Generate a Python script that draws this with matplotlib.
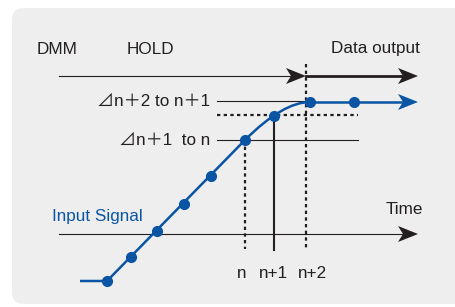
import matplotlib
matplotlib.use("Agg")
import matplotlib.pyplot as plt
from matplotlib.patches import FancyBboxPatch, PathPatch, Polygon
from matplotlib.path import Path

# ---- data (diagram units: x = time position, y = vertical position, y grows downward) ----
sample_x = [107, 131, 157, 184, 211, 245, 274, 310, 354]
sample_y = [281, 257, 231, 204, 176, 140, 116, 102, 102]
signal_start = (80, 281)
signal_end_x = 418
curve_ctrl = (283, 102)

time_axis_y = 234
axis_x_start, axis_x_end = 59, 418
output_y = 76
hold_end_x = 306

level_labels = ["⊿n＋2 to n＋1", "⊿n＋1  to n"]
level_y = [101, 140]
level_x_end = [306, 358]
dotted_level_y = 115
dotted_level_x = (217, 358)

tick_labels = ["n", "n+1", "n+2"]
tick_x = [245, 274, 306]
tick_label_x = [242, 273, 312]

BLUE = "#0a54a4"
INK = "#231f20"
FONT = ["Liberation Sans", "Noto Sans CJK JP", "DejaVu Sans"]
FS = 12.3

fig = plt.figure(figsize=(4.55, 3.07), dpi=100)
fig.patch.set_facecolor("white")
ax = fig.add_axes([0, 0, 1, 1])
ax.set_xlim(0, 455)
ax.set_ylim(307, 0)
ax.axis("off")

# background panel
ax.add_patch(FancyBboxPatch((12, 8), 470, 296, boxstyle="round,pad=0,rounding_size=12",
                            fc="#eeeeee", ec="none", zorder=0))

def head(x_tip, y, color, L=20, H=8, notch=5):
    ax.add_patch(Polygon([(x_tip, y), (x_tip - L, y - H), (x_tip - L + notch, y),
                          (x_tip - L, y + H)], closed=True, fc=color, ec="none", zorder=5))

# top DMM / HOLD arrow
ax.plot([axis_x_start, hold_end_x - 12], [output_y, output_y], color=INK, lw=0.8, zorder=2)
head(hold_end_x, output_y, INK)
ax.plot([hold_end_x, signal_end_x - 12], [output_y, output_y], color=INK, lw=2.0, zorder=2)
head(signal_end_x, output_y, INK)

# time axis
ax.plot([axis_x_start, axis_x_end - 12], [time_axis_y, time_axis_y], color=INK, lw=0.8, zorder=2)
head(axis_x_end, time_axis_y, INK)

# level lines
for lab, y, xe in zip(level_labels, level_y, level_x_end):
    ax.plot([217, xe], [y, y], color=INK, lw=0.8, zorder=2)
    ax.text(210, y, lab, ha="right", va="center", fontsize=FS, color=INK, family=FONT)
ax.plot(dotted_level_x, [dotted_level_y] * 2, color=INK, lw=1.6, ls=(0, (1.5, 1.5)), zorder=2)

# vertical markers
ax.plot([tick_x[0]] * 2, [level_y[1], 249], color=INK, lw=1.6, ls=(0, (1.5, 1.5)), zorder=2)
ax.plot([tick_x[1]] * 2, [dotted_level_y, 250], color=INK, lw=1.5, zorder=2)
ax.plot([tick_x[2]] * 2, [64, 250], color=INK, lw=1.6, ls=(0, (1.5, 1.5)), zorder=2)
for lab, x in zip(tick_labels, tick_label_x):
    ax.text(x, 273, lab, ha="center", va="center", fontsize=FS, color=INK, family=FONT)

# input signal
ax.plot([signal_start[0], sample_x[0], sample_x[5]], [signal_start[1], sample_y[0], sample_y[5]],
        color=BLUE, lw=1.8, zorder=3, solid_capstyle="butt")
curve = Path([(sample_x[5], sample_y[5]), curve_ctrl, (sample_x[7], sample_y[7])],
             [Path.MOVETO, Path.CURVE3, Path.CURVE3])
ax.add_patch(PathPatch(curve, fc="none", ec=BLUE, lw=1.8, zorder=3))
ax.plot([sample_x[7], signal_end_x - 12], [sample_y[7], sample_y[7]], color=BLUE, lw=1.8, zorder=3)
head(signal_end_x, sample_y[7], BLUE)
ax.plot(sample_x, sample_y, "o", color=BLUE, ms=7, zorder=4)

# texts
ax.text(37, 49, "DMM", ha="left", va="center", fontsize=FS, color=INK, family=FONT)
ax.text(127, 49, "HOLD", ha="left", va="center", fontsize=FS, color=INK, family=FONT)
ax.text(420, 49, "Data output", ha="right", va="center", fontsize=FS, color=INK, family=FONT)
ax.text(423, 209, "Time", ha="right", va="center", fontsize=FS, color=INK, family=FONT)
ax.text(52, 217, "Input Signal", ha="left", va="center", fontsize=FS, color=BLUE, family=FONT)

fig.savefig("out.png", dpi=100)
